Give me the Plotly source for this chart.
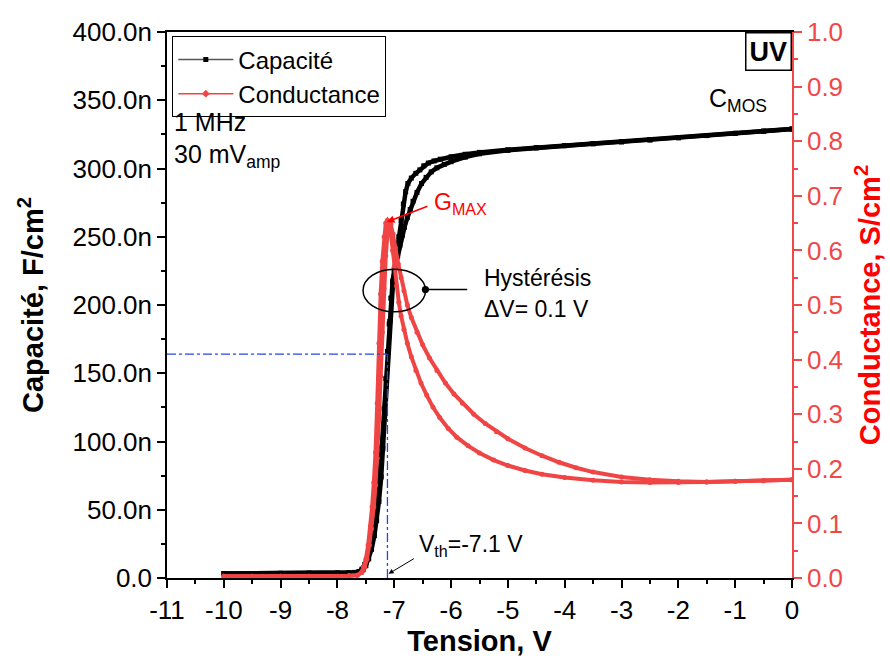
import plotly.graph_objects as go

# ---------------- data ----------------
# Capacitance (nF/cm^2), two sweep branches
V_CAP_A = [-10, -9.5, -9, -8.5, -8, -7.8, -7.7, -7.62, -7.57, -7.52, -7.47, -7.42, -7.37, -7.33, -7.29,
           -7.26, -7.22, -7.18, -7.15, -7.12, -7.09, -7.06, -7.03, -7.0, -6.96, -6.92, -6.88, -6.84, -6.8,
           -6.76, -6.7, -6.62, -6.55, -6.48, -6.4, -6.3, -6.19, -6.0, -5.75, -5.5, -5.0, -4.5, -4.0, -3.5,
           -3.0, -2.5, -2.0, -1.5, -1.0, -0.5, 0]
CAP_A = [3.3, 3.3, 3.4, 3.5, 3.6, 3.8, 4.1, 4.8, 6.5, 10, 15, 23, 33, 47, 60,
         72, 96, 124, 146, 166, 186, 205, 217, 226, 238, 250, 262, 274, 283,
         289, 293, 296.5, 299, 302, 304, 305.5, 306.8, 308.6, 310.4, 311.8, 313.7, 315.3, 316.8, 318.2,
         319.6, 321.0, 322.6, 324.2, 325.8, 327.4, 329.0]
V_CAP_B = [-10, -9.5, -9, -8.5, -8, -7.8, -7.7, -7.6, -7.55, -7.5, -7.45, -7.4, -7.35, -7.31, -7.27,
           -7.23, -7.2, -7.17, -7.14, -7.11, -7.08, -7.05, -7.02, -6.98, -6.94, -6.9, -6.86, -6.82, -6.77,
           -6.72, -6.67, -6.6, -6.52, -6.44, -6.35, -6.25, -6.12, -6.0, -5.75, -5.5, -5.0, -4.5, -4.0, -3.5,
           -3.0, -2.5, -2.0, -1.5, -1.0, -0.5, 0]
CAP_B = [3.3, 3.3, 3.4, 3.5, 3.6, 3.8, 4.0, 4.6, 6, 9, 14, 21, 31, 42, 56,
         74, 95, 118, 142, 166, 188, 205, 218, 228, 236, 244, 251, 257, 264,
         270, 276, 282.5, 289, 293.5, 297.5, 300.5, 303, 305, 308.3, 310.8, 313.3, 315.1, 316.7, 318.1,
         319.5, 320.9, 322.5, 324.1, 325.7, 327.3, 328.9]

# Conductance (S/cm^2), two sweep branches
V_G_A = [-10, -9.5, -9, -8.5, -8, -7.8, -7.65, -7.58, -7.54, -7.5, -7.46, -7.42, -7.39, -7.36, -7.33,
         -7.3, -7.27, -7.24, -7.21, -7.18, -7.15, -7.12, -7.09, -7.06, -7.03, -7.0, -6.96, -6.92, -6.88,
         -6.83, -6.77, -6.7, -6.62, -6.53, -6.43, -6.32, -6.2, -6.05, -5.9, -5.7, -5.5, -5.25, -5.0, -4.7,
         -4.4, -4.0, -3.5, -3.0, -2.5, -2.0, -1.5, -1.0, -0.5, 0]
G_A = [0.003, 0.003, 0.003, 0.003, 0.003, 0.004, 0.005, 0.01, 0.02, 0.035, 0.06, 0.095, 0.13, 0.175, 0.23,
       0.32, 0.43, 0.52, 0.58, 0.625, 0.65, 0.655, 0.65, 0.63, 0.6, 0.57, 0.535, 0.505, 0.48,
       0.455, 0.43, 0.405, 0.38, 0.357, 0.335, 0.313, 0.294, 0.274, 0.258, 0.242, 0.229, 0.216, 0.206, 0.197,
       0.19, 0.184, 0.179, 0.176, 0.175, 0.175, 0.176, 0.177, 0.178, 0.18]
V_G_B = [-10, -9.5, -9, -8.5, -8, -7.8, -7.65, -7.57, -7.52, -7.48, -7.44, -7.4, -7.36, -7.33, -7.3,
         -7.27, -7.24, -7.21, -7.18, -7.15, -7.12, -7.09, -7.06, -7.02, -6.98, -6.93, -6.88, -6.83, -6.77,
         -6.7, -6.6, -6.5, -6.38, -6.25, -6.1, -5.95, -5.8, -5.6, -5.4, -5.2, -5.0, -4.7, -4.4, -4.1,
         -3.8, -3.5, -3.0, -2.5, -2.0, -1.5, -1.0, -0.5, 0]
G_B = [0.003, 0.003, 0.003, 0.003, 0.003, 0.004, 0.005, 0.01, 0.02, 0.035, 0.06, 0.09, 0.13, 0.17, 0.22,
       0.29, 0.37, 0.45, 0.53, 0.59, 0.63, 0.65, 0.648, 0.63, 0.605, 0.575, 0.55, 0.526, 0.5,
       0.477, 0.45, 0.427, 0.403, 0.38, 0.357, 0.337, 0.32, 0.3, 0.283, 0.268, 0.255, 0.238, 0.224, 0.212,
       0.202, 0.194, 0.185, 0.18, 0.177, 0.176, 0.177, 0.178, 0.18]

# threshold reference
VTH = -7.12
CAP_AT_VTH = 164

# ticks
X_TICKS = [-11, -10, -9, -8, -7, -6, -5, -4, -3, -2, -1, 0]
X_LABELS = ["-11", "-10", "-9", "-8", "-7", "-6", "-5", "-4", "-3", "-2", "-1", "0"]
Y_TICKS = [0, 50, 100, 150, 200, 250, 300, 350, 400]
Y_LABELS = ["0.0", "50.0n", "100.0n", "150.0n", "200.0n", "250.0n", "300.0n", "350.0n", "400.0n"]
Y2_TICKS = [0, 0.1, 0.2, 0.3, 0.4, 0.5, 0.6, 0.7, 0.8, 0.9, 1.0]
Y2_LABELS = ["0.0", "0.1", "0.2", "0.3", "0.4", "0.5", "0.6", "0.7", "0.8", "0.9", "1.0"]

# ---------------- style ----------------
FONT = "Liberation Sans, Arial, sans-serif"
RED = "#f04545"
RED_AXIS = "#f04848"
RED_TITLE = "#ff0000"
BLUE = "#2347e6"
TICK_SIZE = 26

fig = go.Figure()

for V, C in [(V_CAP_A, CAP_A), (V_CAP_B, CAP_B)]:
    fig.add_trace(go.Scatter(x=V, y=C, mode="lines+markers", yaxis="y",
                             line=dict(color="black", width=4.5),
                             marker=dict(symbol="square", size=5, color="black"),
                             showlegend=False, hoverinfo="skip"))
for V, G in [(V_G_A, G_A), (V_G_B, G_B)]:
    fig.add_trace(go.Scatter(x=V, y=G, mode="lines+markers", yaxis="y2",
                             line=dict(color=RED, width=4),
                             marker=dict(symbol="circle", size=5, color=RED),
                             showlegend=False, hoverinfo="skip"))

# legend entries
fig.add_trace(go.Scatter(x=[None], y=[None], name="Capacité", mode="lines+markers",
                         line=dict(color="#555", width=1.5),
                         marker=dict(symbol="square", size=5, color="black")))
fig.add_trace(go.Scatter(x=[None], y=[None], name="Conductance", mode="lines+markers", yaxis="y2",
                         line=dict(color=RED, width=1.5),
                         marker=dict(symbol="diamond", size=6, color=RED)))

axis_common = dict(showgrid=False, zeroline=False, showline=True, ticks="outside",
                   ticklen=8, tickwidth=1.5, linewidth=1.5, automargin=False)

fig.update_layout(
    width=890, height=659,
    margin=dict(l=167, r=98, t=32, b=81),
    paper_bgcolor="white", plot_bgcolor="white",
    font=dict(family=FONT, size=24, color="black"),
    xaxis=dict(range=[-11, 0], tickvals=X_TICKS, ticktext=X_LABELS,
               linecolor="black", tickcolor="black", mirror=True,
               tickfont=dict(size=TICK_SIZE),
               minor=dict(dtick=0.5, ticks="outside", ticklen=4, tickwidth=1.5, tickcolor="black"),
               title=dict(text="<b>Tension, V</b>", font=dict(size=29), standoff=6),
               **axis_common),
    yaxis=dict(range=[0, 400], tickvals=Y_TICKS, ticktext=Y_LABELS,
               linecolor="black", tickcolor="black",
               tickfont=dict(size=TICK_SIZE),
               minor=dict(dtick=25, ticks="outside", ticklen=4, tickwidth=1.5, tickcolor="black"),
               title=dict(text="<b>Capacité, F/cm<sup>2</sup></b>", font=dict(size=29), standoff=20),
               **axis_common),
    yaxis2=dict(range=[0, 1], overlaying="y", side="right", tickvals=Y2_TICKS, ticktext=Y2_LABELS,
                linecolor=RED_AXIS, tickcolor=RED_AXIS,
                tickfont=dict(size=TICK_SIZE, color=RED_AXIS),
                minor=dict(dtick=0.05, ticks="outside", ticklen=4, tickwidth=1.5, tickcolor=RED_AXIS),
                title=dict(text="<b>Conductance, S/cm<sup>2</sup></b>", font=dict(size=29, color=RED_TITLE),
                           standoff=18),
                **axis_common),
    legend=dict(x=0.0085, y=0.992, xanchor="left", yanchor="top",
                bgcolor="white", bordercolor="black", borderwidth=1,
                font=dict(size=24), itemwidth=55, tracegroupgap=0),
)

# shapes: hysteresis ellipse and threshold guides
fig.add_shape(type="circle", xref="x", yref="y", x0=-7.55, x1=-6.45, y0=195, y1=226.2,
              line=dict(color="black", width=1.5))
fig.add_shape(type="line", xref="x", yref="y", x0=-11, x1=VTH, y0=CAP_AT_VTH, y1=CAP_AT_VTH,
              line=dict(color=BLUE, width=1.3, dash="dashdot"))
fig.add_shape(type="line", xref="x", yref="y", x0=VTH, x1=VTH, y0=0, y1=CAP_AT_VTH,
              line=dict(color=BLUE, width=1.3, dash="dashdot"))

ann = dict(showarrow=False, font=dict(size=25, color="black"))
fig.add_annotation(x=-10.906, y=334, xref="x", yref="y", text="1 MHz", xanchor="left", yanchor="middle", **ann)
fig.add_annotation(x=-10.906, y=309, xref="x", yref="y", text="30 mV<sub>amp</sub>", xanchor="left",
                   yanchor="middle", **ann)
fig.add_annotation(x=-1.49, y=350, xref="x", yref="y", text="C<sub>MOS</sub>", xanchor="left",
                   yanchor="middle", **ann)
fig.add_annotation(x=1, y=1, xref="paper", yref="paper", text="<b>UV</b>", xanchor="right", yanchor="top",
                   showarrow=False, font=dict(size=27, color="black"), bgcolor="white",
                   bordercolor="black", borderwidth=1.5, borderpad=3)
# G_MAX
fig.add_annotation(x=-6.335, y=0.686, xref="x", yref="y2", text="G<sub>MAX</sub>", xanchor="left",
                   yanchor="middle", showarrow=False, font=dict(size=23, color=RED_TITLE))
fig.add_annotation(x=-7.13, y=0.652, xref="x", yref="y2", ax=-6.39, ay=0.682, axref="x", ayref="y2",
                   text="", showarrow=True, arrowhead=2, arrowsize=1, arrowwidth=1.5, arrowcolor=RED_TITLE)
# hysteresis label
fig.add_annotation(x=-5.46, y=220, xref="x", yref="y", text="Hystérésis", xanchor="left",
                   yanchor="middle", showarrow=False, font=dict(size=23, color="black"))
fig.add_annotation(x=-5.46, y=197.4, xref="x", yref="y", text="ΔV= 0.1 V", xanchor="left",
                   yanchor="middle", showarrow=False, font=dict(size=23, color="black"))
fig.add_annotation(x=-6.452, y=211.3, xref="x", yref="y", ax=-5.69, ay=211.3, axref="x", ayref="y",
                   text="", showarrow=True, arrowhead=6, arrowsize=1.2, arrowwidth=1.5, arrowcolor="black")
# Vth label
fig.add_annotation(x=-6.60, y=24, xref="x", yref="y", text="V<sub>th</sub>=-7.1 V", xanchor="left",
                   yanchor="middle", showarrow=False, font=dict(size=23, color="black"))
fig.add_annotation(x=-7.10, y=3.1, xref="x", yref="y", ax=-6.63, ay=14.8, axref="x", ayref="y",
                   text="", showarrow=True, arrowhead=2, arrowsize=1, arrowwidth=1, arrowcolor="black")

fig.write_html("out.html", config={"displayModeBar": False},
               post_script="document.body.style.margin='0';document.body.style.overflow='hidden';")
